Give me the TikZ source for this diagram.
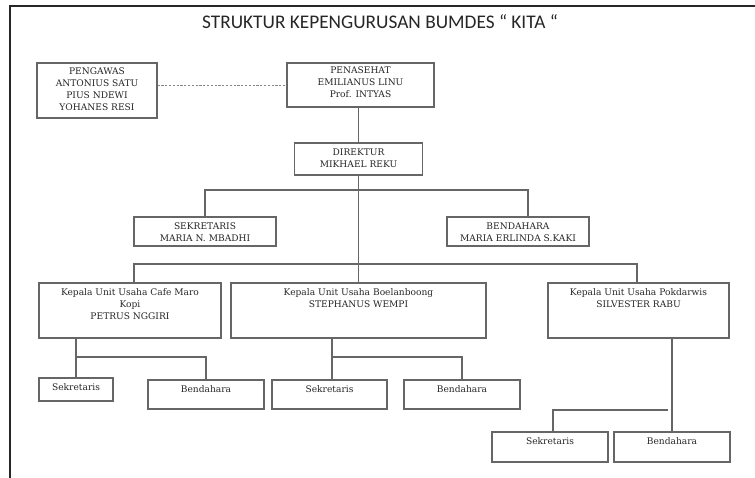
\documentclass[tikz,border=0pt]{standalone}
\usepackage{fontspec}
\setmainfont{DejaVu Serif}
\newfontfamily\titlefont{Carlito}
\definecolor{boxgray}{HTML}{666666}
\definecolor{txtgray}{HTML}{262626}
\begin{document}
\begin{tikzpicture}[x=1pt,y=-1pt,
  box/.style={draw=boxgray, line width=1.1pt, inner sep=0pt},
  lbl/.style={anchor=north, align=center, inner sep=0pt, text=txtgray,
    font=\fontsize{9.1}{12}\selectfont},
  conn/.style={draw=boxgray, line width=1.1pt}]
\useasboundingbox (0,0) rectangle (755,478);
% page frame
\draw[line width=1.4pt, black!85] (755,6) -- (10,6) -- (10,478);
% title
\node[text=black!85, font=\titlefont\fontsize{19.3}{22}\selectfont, inner sep=0pt] (title) at (380,22) {STRUKTUR KEPENGURUSAN BUMDES “ KITA “};
% top row
\node[box, minimum width=120pt, minimum height=55pt,
  label={[lbl, yshift=-5.2pt]north:PENGAWAS\\ANTONIUS SATU\\PIUS NDEWI\\YOHANES RESI}] (peng) at (97,90.5) {};
\node[box, minimum width=147pt, minimum height=44pt,
  label={[lbl, yshift=-4.5pt]north:PENASEHAT\\EMILIANUS LINU\\Prof. INTYAS}] (pen) at (360.5,85) {};
\node[box, minimum width=128pt, minimum height=32pt,
  label={[lbl, yshift=-6.3pt]north:DIREKTUR\\MIKHAEL REKU}] (dir) at (358.5,159) {};
% secretary / treasurer
\node[box, minimum width=142pt, minimum height=29pt,
  label={[lbl, yshift=-6pt]north:SEKRETARIS\\MARIA N. MBADHI}] (sek1) at (205,231.5) {};
\node[box, minimum width=142pt, minimum height=29pt,
  label={[lbl, yshift=-6pt]north:BENDAHARA\\MARIA ERLINDA S.KAKI}] (ben1) at (518,231.5) {};
% units
\node[box, minimum width=182pt, minimum height=55pt,
  label={[lbl, yshift=-6.3pt]north:Kepala Unit Usaha Cafe Maro\\Kopi\\PETRUS NGGIRI}] (cafe) at (130,310.5) {};
\node[box, minimum width=255pt, minimum height=55pt,
  label={[lbl, yshift=-6.3pt]north:Kepala Unit Usaha Boelanboong\\STEPHANUS WEMPI}] (boel) at (358.5,310.5) {};
\node[box, minimum width=181pt, minimum height=55pt,
  label={[lbl, yshift=-6.3pt]north:Kepala Unit Usaha Pokdarwis\\SILVESTER RABU}] (pok) at (638.5,310.5) {};
% unit staff
\node[box, minimum width=74pt, minimum height=23pt,
  label={[lbl, yshift=-6.3pt]north:Sekretaris}] (sekC) at (76,389.5) {};
\node[box, minimum width=116pt, minimum height=29pt,
  label={[lbl, yshift=-6.3pt]north:Bendahara}] (benC) at (206,394.5) {};
\node[box, minimum width=115pt, minimum height=29pt,
  label={[lbl, yshift=-6.3pt]north:Sekretaris}] (sekB) at (329.5,394.5) {};
\node[box, minimum width=116pt, minimum height=29pt,
  label={[lbl, yshift=-6.3pt]north:Bendahara}] (benB) at (462,394.5) {};
\node[box, minimum width=116pt, minimum height=30pt,
  label={[lbl, yshift=-6.3pt]north:Sekretaris}] (sekP) at (550,447) {};
\node[box, minimum width=116pt, minimum height=30pt,
  label={[lbl, yshift=-6.3pt]north:Bendahara}] (benP) at (672,447) {};
% helper coordinates
\coordinate (j1) at (358,190);
\coordinate (j2) at (358,264);
\coordinate (row2) at (0,357);
\coordinate (b1) at ([xshift=10pt]ben1.north);
\coordinate (c1) at ([xshift=4pt]cafe.north);
\coordinate (p1) at ([xshift=-1.5pt]pok.north);
\coordinate (sb) at ([xshift=2.5pt]sekB.north);
\coordinate (sp) at ([xshift=3pt]sekP.north);
\coordinate (g) at (668,410);
% connectors
\draw[draw=boxgray!80, line width=0.9pt, dash pattern=on 2.2pt off 1.6pt] (pen.west -| peng.east) -- (pen.west);
\draw[conn] (dir.north |- pen.south) -- (dir.north);
\draw[conn] (dir.south) -- (boel.north);
\draw[conn] (sek1.north) -- (sek1.north |- j1) -- (b1 |- j1) -- (b1);
\draw[conn] (c1) -- (c1 |- j2) -- (p1 |- j2) -- (p1);
\draw[conn] (cafe.south -| sekC.north) -- (sekC.north);
\draw[conn] (sekC.north |- row2) -- (benC.north |- row2) -- (benC.north);
\draw[conn] (boel.south -| sb) -- (sb);
\draw[conn] (sb |- row2) -- (benB.north |- row2) -- (benB.north);
\draw[conn] (pok.south -| benP.north) -- (benP.north);
\draw[conn] (g) -- (sp |- g) -- (sp);
\end{tikzpicture}
\end{document}
